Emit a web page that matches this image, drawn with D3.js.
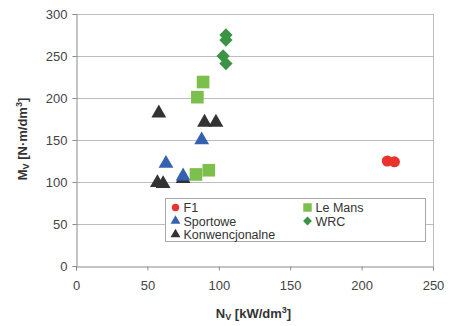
<!DOCTYPE html>
<head>
  <script src="https://cdn.jsdelivr.net/npm/d3@7"></script>
  <style>
    body { margin: 0; background: #fff; }
    text { font-family: "Liberation Sans", Arial, sans-serif; }
  </style>
</head>
<div id="chart"></div>
<script>
  // values
  const f1 = [[218, 125], [223, 124]];
  const leMans = [[89, 219], [85, 201], [84, 109], [93, 114]];
  const sportowe = [[63, 122], [88, 150], [75, 107]];
  const wrc = [[105, 275], [105, 269], [103, 250], [105, 241]];
  const konw = [[58, 182], [90, 171], [98, 171], [57, 99], [61, 98], [75, 104]];
  const xTicks = [0, 50, 100, 150, 200, 250];
  const yTicks = [0, 50, 100, 150, 200, 250, 300];

  const series = [
    {name: "F1", data: f1, shape: d3.symbolCircle, color: "#e8332f", size: 95, rot: 0, col: 0, row: 0},
    {name: "Le Mans", data: leMans, shape: d3.symbolSquare, color: "#7dbf4c", size: 160, rot: 0, col: 1, row: 0},
    {name: "Sportowe", data: sportowe, shape: d3.symbolTriangle, color: "#3462b0", size: 95, rot: 0, col: 0, row: 1},
    {name: "WRC", data: wrc, shape: d3.symbolSquare, color: "#3b9444", size: 88, rot: 45, col: 1, row: 1},
    {name: "Konwencjonalne", data: konw, shape: d3.symbolTriangle, color: "#333333", size: 95, rot: 0, col: 0, row: 2}
  ];
  // draw order so overlaps look like the picture
  const drawOrder = [4, 2, 1, 3, 0];

  const width = 453, height = 326;
  const m = {left: 76, right: 20, top: 14, bottom: 60};
  const svg = d3.select("#chart").append("svg").attr("width", width).attr("height", height);

  const x = d3.scaleLinear().domain([0, 250]).range([m.left, width - m.right]);
  const y = d3.scaleLinear().domain([0, 300]).range([height - m.bottom, m.top]);

  // gridlines
  svg.append("g")
    .selectAll("line").data(yTicks.filter(d => d > 0)).join("line")
      .attr("x1", x(0)).attr("x2", x(250))
      .attr("y1", d => y(d) + 0.5).attr("y2", d => y(d) + 0.5)
      .attr("stroke", "#bdbdbd");
  svg.append("line")
    .attr("x1", x(250) + 0.5).attr("x2", x(250) + 0.5)
    .attr("y1", y(300)).attr("y2", y(0))
    .attr("stroke", "#bdbdbd");

  const xAxis = svg.append("g")
    .attr("transform", `translate(0,${y(0) + 0.5})`)
    .call(d3.axisBottom(x).tickValues(xTicks).tickSize(4).tickPadding(10));
  const yAxis = svg.append("g")
    .attr("transform", `translate(${x(0) + 0.5},0)`)
    .call(d3.axisLeft(y).tickValues(yTicks).tickSize(4).tickPadding(5));
  [xAxis, yAxis].forEach(a => {
    a.select(".domain").attr("stroke", "#8a8a8a");
    a.selectAll(".tick line").attr("stroke", "#8a8a8a");
    a.selectAll(".tick text").attr("fill", "#444").style("font-size", "13px")
      .style("font-family", "'Liberation Sans', Arial, sans-serif");
  });

  // axis titles
  const xt = svg.append("text")
    .attr("x", x(125) - 1).attr("y", 318)
    .attr("text-anchor", "middle")
    .attr("fill", "#333").style("font-size", "13px").style("font-weight", "bold");
  xt.append("tspan").text("N");
  xt.append("tspan").text("V").style("font-size", "9px").attr("dy", 2);
  xt.append("tspan").text(" [kW/dm").attr("dy", -2);
  xt.append("tspan").text("3").style("font-size", "9px").attr("dy", -5);
  xt.append("tspan").text("]").attr("dy", 5);

  const yt = svg.append("text")
    .attr("transform", `translate(27,${y(150) - 1}) rotate(-90)`)
    .attr("text-anchor", "middle")
    .attr("fill", "#333").style("font-size", "13px").style("font-weight", "bold");
  yt.append("tspan").text("M");
  yt.append("tspan").text("V").style("font-size", "9px").attr("dy", 2);
  yt.append("tspan").text(" [N\u00b7m/dm").attr("dy", -2);
  yt.append("tspan").text("3").style("font-size", "9px").attr("dy", -5);
  yt.append("tspan").text("]").attr("dy", 5);

  // points
  drawOrder.forEach(i => {
    const s = series[i];
    svg.append("g").selectAll("path").data(s.data).join("path")
      .attr("d", d3.symbol().type(s.shape).size(s.size))
      .attr("transform", d => `translate(${x(d[0])},${y(d[1])}) rotate(${s.rot})`)
      .attr("fill", s.color);
  });

  // legend
  const lg = svg.append("g").attr("transform", "translate(165.5,198.5)");
  lg.append("rect").attr("width", 260).attr("height", 43)
    .attr("fill", "#fff").attr("stroke", "#a8a8a8");
  const item = lg.selectAll("g.item").data(series).join("g")
    .attr("transform", d => `translate(${10 + d.col * 132},${9 + d.row * 13.5})`);
  item.append("path")
    .attr("d", d => d3.symbol().type(d.shape).size(d.size * 0.45)())
    .attr("transform", d => `rotate(${d.rot})`)
    .attr("fill", d => d.color);
  item.append("text").attr("x", 8).attr("y", 4.5)
    .attr("fill", "#333").style("font-size", "12.5px")
    .text(d => d.name);
</script>
